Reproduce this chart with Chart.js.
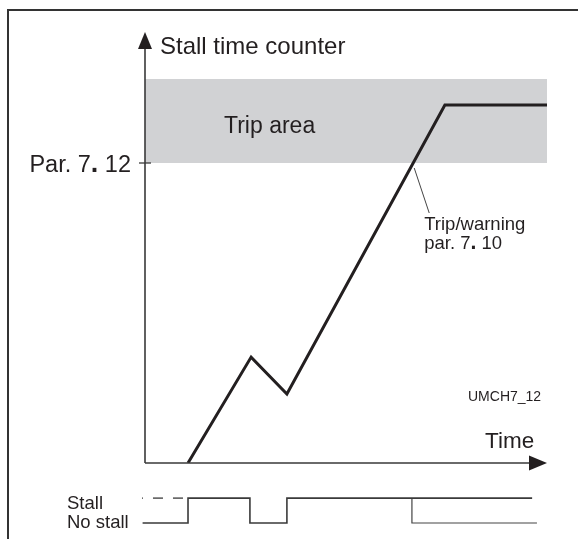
<!DOCTYPE html>
<html>
<head>
<meta charset="utf-8">
<script src="https://cdn.jsdelivr.net/npm/chart.js@4.4.0/dist/chart.umd.min.js"></script>
<style>
  html, body { margin: 0; padding: 0; background: #fff; }
  #wrap { width: 578px; height: 541px; }
</style>
</head>
<body>
<div id="wrap"><canvas id="stallChart" width="578" height="541"></canvas></div>
<script>
// stall time counter, time in units 0..100 along the time axis
const counterTime = [10.7, 26.4, 35.3, 74.6, 100];
const counterValue = [0, 35.3, 23, 119.3, 119.3];

// Par. 7.12 limit and the top of the shaded trip band (counter units)
const tripLimit = 100;
const tripBandTop = 128;
const tripBandTime = [0, 100];

// stall input: 1 = stall, 0 = no stall
const stallTime = [-0.6, 10.7, 26.1, 35.3, 96.3];
const stallState = [0, 1, 0, 1, 1];
// after the trip the input may also fall back to no stall
const afterTripTime = [66.4, 97.5];
const afterTripState = [1, 0];
// dashed guide for the "Stall" level in front of the signal
const stallGuideTime = [-0.75, 9.45];

const axisLabels = { y: 'Stall time counter', x: 'Time' };
const tickLabel = 'Par. 7. 12';
const tripText = 'Trip area';
const noteLines = ['Trip/warning', 'par. 7. 10'];
const levelLabels = ['No stall', 'Stall'];
const figId = 'UMCH7_12';

// signal levels drawn below the time axis, in counter units
const SIG_Y = [-20, -11.7];

const FONT = '"Liberation Sans", Arial, Helvetica, sans-serif';
const INK = '#231f20';
const AXIS = '#3a3a3a';

const pts = (xs, ys) => xs.map((x, i) => ({ x: x, y: ys[i] }));

function drawParText(ctx, text, x, y, size, align) {
  // the dot after the parameter group is printed heavier
  const m = text.match(/\d\./);
  const a = text.slice(0, m.index + 1);
  const b = '.';
  const c = text.slice(m.index + 2);
  ctx.font = size + 'px ' + FONT;
  const wa = ctx.measureText(a).width;
  const wc = ctx.measureText(c).width;
  ctx.font = 'bold ' + (size * 1.15) + 'px ' + FONT;
  const wb = ctx.measureText(b).width;
  let x0 = align === 'right' ? x - (wa + wb + wc) : x;
  ctx.textAlign = 'left';
  ctx.font = size + 'px ' + FONT;
  ctx.fillText(a, x0, y);
  ctx.font = 'bold ' + (size * 1.15) + 'px ' + FONT;
  ctx.fillText(b, x0 + wa, y);
  ctx.font = size + 'px ' + FONT;
  ctx.fillText(c, x0 + wa + wb, y);
}

const decor = {
  id: 'stallDecor',
  afterDatasetsDraw(chart) {
    const ctx = chart.ctx;
    const xs = chart.scales.x, ys = chart.scales.y;
    const x0 = xs.getPixelForValue(0);
    const y0 = ys.getPixelForValue(0);
    const yTop = ys.getPixelForValue(ys.max);
    const xEnd = xs.getPixelForValue(xs.max);
    ctx.save();

    // frame
    ctx.strokeStyle = '#333';
    ctx.lineWidth = 2;
    ctx.beginPath();
    ctx.moveTo(8, 539);
    ctx.lineTo(8, 10);
    ctx.lineTo(578, 10);
    ctx.stroke();

    // axes
    ctx.strokeStyle = AXIS;
    ctx.lineWidth = 1.6;
    ctx.beginPath();
    ctx.moveTo(x0, y0);
    ctx.lineTo(x0, yTop + 10);
    ctx.moveTo(x0, y0);
    ctx.lineTo(xEnd - 10, y0);
    ctx.stroke();

    ctx.fillStyle = INK;
    ctx.beginPath();
    ctx.moveTo(x0, yTop + 1);
    ctx.lineTo(x0 - 7, yTop + 18);
    ctx.lineTo(x0 + 7, yTop + 18);
    ctx.closePath();
    ctx.fill();
    ctx.beginPath();
    ctx.moveTo(xEnd, y0);
    ctx.lineTo(xEnd - 18, y0 - 7.5);
    ctx.lineTo(xEnd - 18, y0 + 7.5);
    ctx.closePath();
    ctx.fill();

    // Par. 7.12 tick
    const yLim = ys.getPixelForValue(tripLimit);
    ctx.lineWidth = 1.3;
    ctx.beginPath();
    ctx.moveTo(x0 - 6, yLim);
    ctx.lineTo(x0 + 6, yLim);
    ctx.stroke();

    // leader from the crossing of the limit to the note
    const i = counterValue.findIndex(v => v >= tripLimit);
    const t = (tripLimit - counterValue[i - 1]) / (counterValue[i] - counterValue[i - 1]);
    const tCross = counterTime[i - 1] + t * (counterTime[i] - counterTime[i - 1]);
    const xc = xs.getPixelForValue(tCross);
    ctx.lineWidth = 1;
    ctx.strokeStyle = '#444';
    ctx.beginPath();
    ctx.moveTo(xc + 1, yLim + 5);
    ctx.lineTo(xc + 16, yLim + 50);
    ctx.stroke();

    // texts
    ctx.fillStyle = INK;
    ctx.textBaseline = 'alphabetic';
    ctx.textAlign = 'left';
    ctx.font = '24px ' + FONT;
    ctx.fillText(axisLabels.y, x0 + 15, 54);
    ctx.font = '23px ' + FONT;
    ctx.fillText(tripText, 224, 133);
    drawParText(ctx, tickLabel, x0 - 14, yLim + 9, 23.5, 'right');
    ctx.font = '22.5px ' + FONT;
    ctx.textAlign = 'left';
    ctx.fillText(axisLabels.x, 485, 448);
    ctx.font = '18.5px ' + FONT;
    ctx.fillText(noteLines[0], xc + 11, 230);
    drawParText(ctx, noteLines[1], xc + 11, 249, 18.5, 'left');
    ctx.font = '14px ' + FONT;
    ctx.textAlign = 'left';
    ctx.fillText(figId, 468, 401);
    ctx.font = '18.5px ' + FONT;
    ctx.fillText(levelLabels[1], 67, 509);
    ctx.fillText(levelLabels[0], 67, 528);
    ctx.restore();
  }
};

new Chart(document.getElementById('stallChart'), {
  type: 'line',
  data: {
    datasets: [
      {
        data: pts(counterTime, counterValue),
        borderColor: INK,
        borderWidth: 3,
        borderJoinStyle: 'miter',
        pointRadius: 0,
        tension: 0,
        fill: false,
        order: 0
      },
      {
        data: pts(tripBandTime, tripBandTime.map(() => tripBandTop)),
        borderWidth: 0,
        borderColor: 'rgba(0,0,0,0)',
        backgroundColor: '#d1d2d4',
        pointRadius: 0,
        fill: { value: tripLimit },
        order: 9
      },
      {
        data: pts(stallTime, stallState.map(s => SIG_Y[s])),
        stepped: true,
        borderColor: AXIS,
        borderWidth: 1.6,
        pointRadius: 0,
        fill: false,
        clip: false,
        order: 1
      },
      {
        data: pts(afterTripTime, afterTripState.map(s => SIG_Y[s])),
        stepped: 'after',
        borderColor: '#444',
        borderWidth: 1.2,
        pointRadius: 0,
        fill: false,
        clip: false,
        order: 2
      },
      {
        data: pts(stallGuideTime, stallGuideTime.map(() => SIG_Y[1])),
        borderColor: AXIS,
        borderWidth: 1.3,
        borderDash: [10, 10],
        borderDashOffset: 9,
        pointRadius: 0,
        fill: false,
        clip: false,
        order: 3
      }
    ]
  },
  options: {
    responsive: false,
    animation: false,
    devicePixelRatio: 1,
    layout: { padding: { left: 145, right: 31, top: 31, bottom: 78 } },
    scales: {
      x: { type: 'linear', min: 0, max: 100, display: false },
      y: { type: 'linear', min: 0, max: 144, display: false }
    },
    plugins: {
      legend: { display: false },
      tooltip: { enabled: false }
    }
  },
  plugins: [decor]
});
</script>
</body>
</html>
